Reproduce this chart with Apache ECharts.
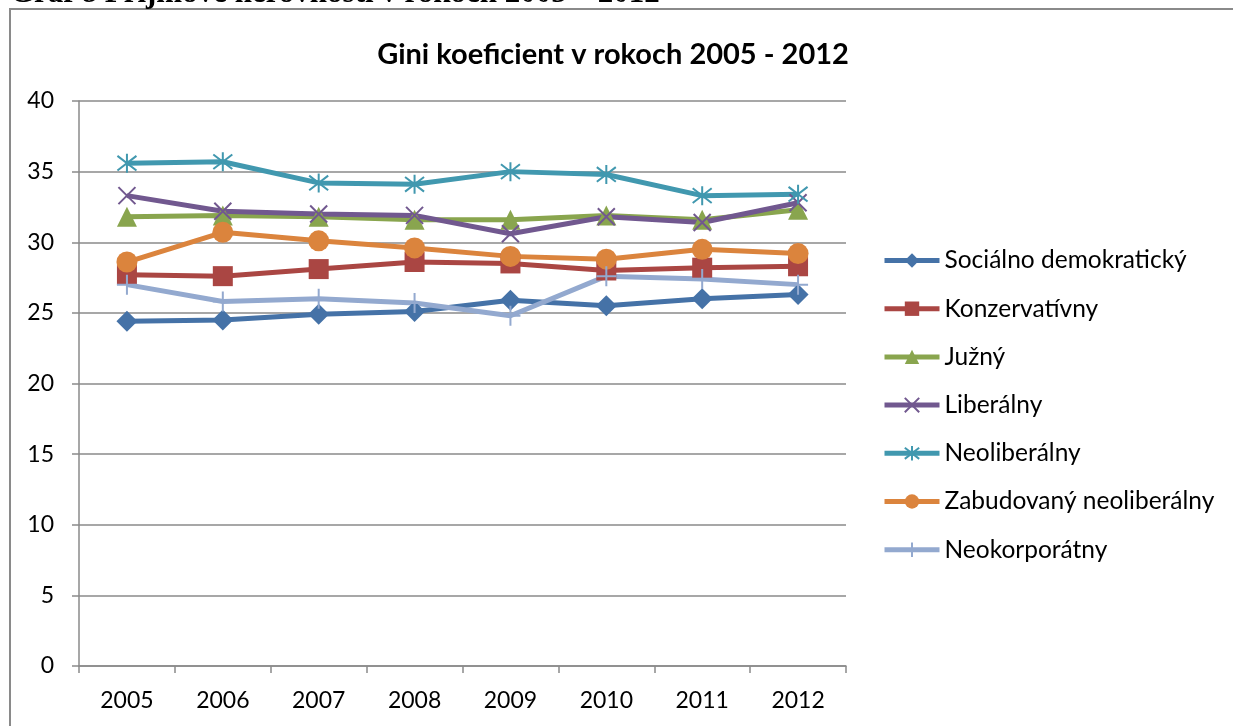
<!DOCTYPE html>
<html>
<head>
<meta charset="utf-8">
<script src="https://cdn.jsdelivr.net/npm/echarts@6/dist/echarts.min.js"></script>
<style>
  html, body { margin: 0; padding: 0; background: #fff; }
  #chart { width: 1233px; height: 726px; }
</style>
</head>
<body>
<div id="chart"></div>
<script>
// Years on the category axis
const years = ['2005', '2006', '2007', '2008', '2009', '2010', '2011', '2012'];

// Gini coefficient by welfare-state type
const socialnoDemokraticky = [24.4, 24.5, 24.9, 25.1, 25.9, 25.5, 26.0, 26.3];
const konzervativny        = [27.7, 27.6, 28.1, 28.6, 28.5, 28.0, 28.2, 28.3];
const juzny                = [31.8, 31.9, 31.8, 31.6, 31.6, 31.9, 31.6, 32.3];
const liberalny            = [33.3, 32.2, 32.0, 31.9, 30.6, 31.8, 31.4, 32.8];
const neoliberalny         = [35.6, 35.7, 34.2, 34.1, 35.0, 34.8, 33.3, 33.4];
const zabudovanyNeolib     = [28.6, 30.7, 30.1, 29.6, 29.0, 28.8, 29.5, 29.2];
const neokorporatny        = [27.0, 25.8, 26.0, 25.7, 24.8, 27.6, 27.4, 27.0];

const seriesNames = ['Sociálno demokratický', 'Konzervatívny', 'Južný', 'Liberálny',
                     'Neoliberálny', 'Zabudovaný neoliberálny', 'Neokorporátny'];

const FONT = 'Lato, "Open Sans", sans-serif';
const GRID = '#8a8a8a';

// Stroke-only marker shapes
const X_MARK   = 'path://M0,0L10,10M10,0L0,10';
const ASTERISK = 'path://M0,0L10,10M10,0L0,10M5,-1.5L5,11.5';
const PLUS     = 'path://M5,0L5,10M1.5,5L8.5,5';

function lineSeries(name, data, color, symbol, size, stroked) {
  return {
    name: name,
    type: 'line',
    data: data,
    symbol: symbol,
    symbolSize: size,
    showAllSymbol: true,
    lineStyle: { color: color, width: 5 },
    itemStyle: stroked
      ? { color: 'rgba(0,0,0,0)', borderColor: color, borderWidth: 2 }
      : { color: color, borderWidth: 0 },
    color: color,
    emphasis: { disabled: true },
    animation: false
  };
}

const chart = echarts.init(document.getElementById('chart'), null, { renderer: 'canvas' });

chart.setOption({
  backgroundColor: '#fff',
  animation: false,
  title: {
    text: 'Gini koeficient v rokoch 2005 - 2012',
    left: 608,
    top: 35,
    textAlign: 'center',
    textStyle: { fontFamily: FONT, fontWeight: 'bold', fontSize: 29, color: '#000' }
  },
  graphic: [
    {
      type: 'rect',
      shape: { x: 10, y: 9, width: 1240, height: 800 },
      style: { fill: 'none', stroke: '#8a8a8a', lineWidth: 2 },
      silent: true
    },
    {
      type: 'text',
      left: 10,
      top: -22,
      style: {
        text: 'Graf 8 Príjmové nerovnosti v rokoch 2005 – 2012',
        font: 'bold 31px "Liberation Serif", serif',
        fill: '#000'
      },
      silent: true
    }
  ],
  legend: {
    orient: 'vertical',
    left: 882,
    top: 248,
    padding: 0,
    itemWidth: 55,
    itemHeight: 18,
    itemGap: 23.2,
    itemTextGap: 5,
    lineStyle: { width: 5 },
    textStyle: { fontFamily: FONT, fontSize: 24.5, color: '#000', lineHeight: 24 },
    data: seriesNames
  },
  grid: { left: 79, right: 387, top: 101, bottom: 60, containLabel: false },
  xAxis: {
    type: 'category',
    data: years,
    boundaryGap: true,
    axisLine: { lineStyle: { color: GRID, width: 1.5 } },
    axisTick: { show: true, length: 7, inside: false, lineStyle: { color: GRID, width: 1.5 } },
    axisLabel: { fontFamily: FONT, fontSize: 23, color: '#000', margin: 23 },
    splitLine: { show: false }
  },
  yAxis: {
    type: 'value',
    min: 0,
    max: 40,
    interval: 5,
    axisLine: { show: true, lineStyle: { color: GRID, width: 1.5 } },
    axisTick: { show: true, length: 7, lineStyle: { color: GRID, width: 1.5 } },
    axisLabel: { fontFamily: FONT, fontSize: 23, color: '#000', margin: 25 },
    splitLine: { show: true, lineStyle: { color: GRID, width: 1.5 } }
  },
  series: [
    lineSeries(seriesNames[0], socialnoDemokraticky, '#4572A7', 'diamond', 21, false),
    lineSeries(seriesNames[1], konzervativny,        '#AA4643', 'rect', 20, false),
    lineSeries(seriesNames[2], juzny,                '#89A54E', 'triangle', 20, false),
    lineSeries(seriesNames[3], liberalny,            '#71588F', X_MARK, 17, true),
    lineSeries(seriesNames[4], neoliberalny,         '#4198AF', ASTERISK, 19, true),
    lineSeries(seriesNames[5], zabudovanyNeolib,     '#DB843D', 'circle', 21, false),
    lineSeries(seriesNames[6], neokorporatny,        '#93A9CF', PLUS, 20, true)
  ]
});
</script>
</body>
</html>
